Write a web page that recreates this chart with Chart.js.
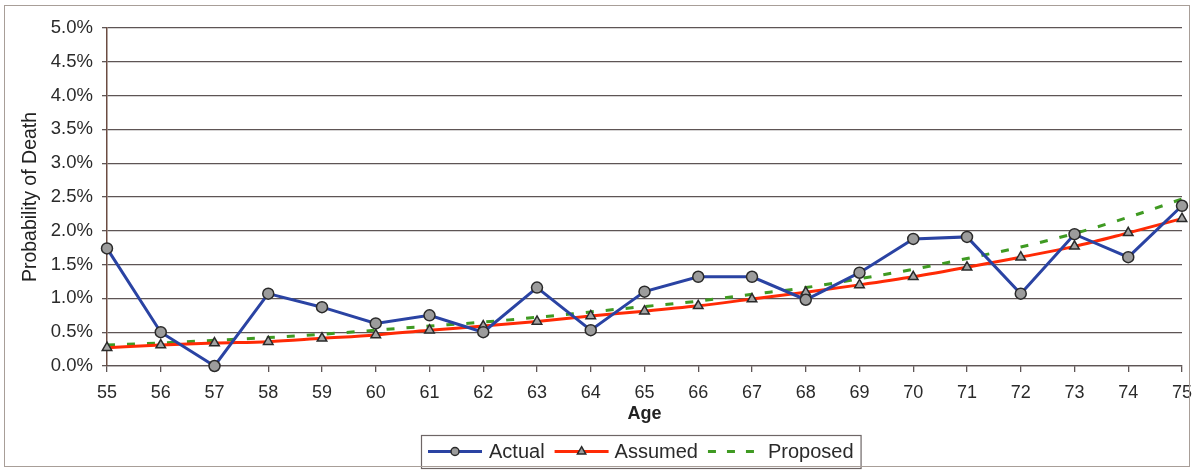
<!DOCTYPE html>
<html>
<head>
<meta charset="utf-8">
<title>Probability of Death by Age</title>
<script src="https://cdn.jsdelivr.net/npm/chart.js@4/dist/chart.umd.min.js"></script>
<style>
  html, body { margin: 0; padding: 0; background: #fff; }
  #wrap { position: relative; width: 1192px; height: 471px; }
  #frame { position: absolute; left: 4px; top: 5px; width: 1186px; height: 462px;
           border: 1px solid #a89e98; box-sizing: border-box; pointer-events: none; }
  canvas { display: block; }
</style>
</head>
<body>
<div id="wrap">
  <canvas id="chart" width="1192" height="471"></canvas>
  <div id="frame"></div>
</div>
<script>
// Ages on the horizontal axis
const ages = ['55','56','57','58','59','60','61','62','63','64','65','66','67','68','69','70','71','72','73','74','75'];

// Probability of death, in percent
const actual   = [1.74, 0.50, 0.00, 1.07, 0.87, 0.63, 0.75, 0.50, 1.16, 0.53, 1.10, 1.32, 1.32, 0.98, 1.38, 1.88, 1.91, 1.07, 1.95, 1.61, 2.37];
const assumed  = [0.27, 0.31, 0.34, 0.36, 0.41, 0.46, 0.53, 0.59, 0.66, 0.74, 0.81, 0.89, 0.99, 1.09, 1.20, 1.32, 1.46, 1.61, 1.77, 1.97, 2.18];
const proposed = [0.31, 0.34, 0.38, 0.42, 0.47, 0.53, 0.59, 0.65, 0.72, 0.80, 0.88, 0.96, 1.06, 1.16, 1.29, 1.43, 1.59, 1.76, 1.96, 2.20, 2.47];

// Y axis range and step, in percent
const yMin = 0, yMax = 5, yStep = 0.5;

const FONT = '"Liberation Sans", Arial, sans-serif';
const BLUE = '#2a43a3', RED = '#ff2a05', GREEN = '#3f9a22';
const GRID = '#5e5555';

// Legend drawn as a framed box below the axis, each entry with a line sample
const boxLegend = {
  id: 'boxLegend',
  afterDraw(chart) {
    const ctx = chart.ctx;
    const items = [
      { text: 'Actual',   color: BLUE,  marker: 'circle',   dash: [],      w: 54, gap: 7 },
      { text: 'Assumed',  color: RED,   marker: 'triangle', dash: [],      w: 54, gap: 6 },
      { text: 'Proposed', color: GREEN, marker: null,       dash: [8, 11], w: 49, gap: 11 }
    ];
    ctx.save();
    ctx.font = '20px ' + FONT;
    const padL = 7, gapI = 10;
    let total = padL * 2;
    items.forEach((it, i) => {
      it.tw = ctx.measureText(it.text).width;
      total += it.w + it.gap + it.tw + (i < items.length - 1 ? gapI : 0);
    });
    const cx = 641, top = 435, h = 33;
    const left = Math.round(cx - total / 2);
    ctx.fillStyle = '#fff';
    ctx.fillRect(left, top, total, h);
    ctx.strokeStyle = '#6e6666';
    ctx.lineWidth = 1.2;
    ctx.strokeRect(left + 0.5, top + 0.5, total, h);
    const cy = top + h / 2;
    let x = left + padL;
    items.forEach(it => {
      ctx.beginPath();
      ctx.setLineDash(it.dash);
      ctx.strokeStyle = it.color;
      ctx.lineWidth = 3;
      ctx.moveTo(x, cy);
      ctx.lineTo(x + it.w, cy);
      ctx.stroke();
      ctx.setLineDash([]);
      if (it.marker) {
        ctx.fillStyle = '#9c9c9c';
        ctx.strokeStyle = '#2a2a2a';
        ctx.lineWidth = 1.5;
        ctx.beginPath();
        const px = x + it.w / 2;
        if (it.marker === 'circle') {
          ctx.arc(px, cy, 4, 0, Math.PI * 2);
        } else {
          const r = 4.8;
          ctx.moveTo(px, cy - r);
          ctx.lineTo(px + r * 0.866, cy + r * 0.5);
          ctx.lineTo(px - r * 0.866, cy + r * 0.5);
          ctx.closePath();
        }
        ctx.fill();
        ctx.stroke();
      }
      x += it.w + it.gap;
      ctx.fillStyle = '#2a2a2a';
      ctx.textBaseline = 'middle';
      ctx.textAlign = 'left';
      ctx.fillText(it.text, x, cy + 1);
      x += it.tw + gapI;
    });
    ctx.restore();
  }
};

new Chart(document.getElementById('chart'), {
  type: 'line',
  data: {
    labels: ages,
    datasets: [
      {
        label: 'Actual', data: actual,
        borderColor: BLUE, borderWidth: 3,
        pointStyle: 'circle', pointRadius: 5.5, pointBorderWidth: 1.5,
        pointBackgroundColor: '#9c9c9c', pointBorderColor: '#2a2a2a',
        tension: 0, clip: false
      },
      {
        label: 'Assumed', data: assumed,
        borderColor: RED, borderWidth: 3,
        pointStyle: 'triangle', pointRadius: 5.5, pointBorderWidth: 1.5,
        pointBackgroundColor: '#a4a4a4', pointBorderColor: '#2a2a2a',
        tension: 0.3, cubicInterpolationMode: 'monotone', clip: false
      },
      {
        label: 'Proposed', data: proposed,
        borderColor: GREEN, borderWidth: 3, borderDash: [8, 12],
        pointRadius: 0, pointHoverRadius: 0,
        tension: 0.3, cubicInterpolationMode: 'monotone', clip: false
      }
    ]
  },
  options: {
    responsive: false,
    animation: false,
    devicePixelRatio: 1,
    layout: { padding: { left: 0, right: 10, top: 28, bottom: 45 } },
    plugins: { legend: { display: false }, tooltip: { enabled: false } },
    scales: {
      x: {
        offset: false,
        grid: { drawOnChartArea: false, drawTicks: true, tickLength: 6, color: GRID, lineWidth: 1.3 },
        border: { display: true, color: GRID, width: 1.3 },
        ticks: { color: '#2a2a2a', font: { family: FONT, size: 18 }, padding: 10, maxRotation: 0, autoSkip: false },
        title: { display: true, text: 'Age', color: '#222', font: { family: FONT, size: 18, weight: 'bold' }, padding: { top: 0, bottom: 1 } },
        afterFit(scale) {
          scale.height = 60;
          scale.paddingLeft = 0;
          scale.paddingRight = 0;
        }
      },
      y: {
        min: yMin, max: yMax,
        grid: { drawTicks: true, tickLength: 5, color: GRID, lineWidth: 1.3 },
        border: { display: true, color: '#6b4c42', width: 1.5 },
        ticks: {
          stepSize: yStep, color: '#2a2a2a', font: { family: FONT, size: 18.5 }, padding: 9,
          callback: v => v.toFixed(1) + '%'
        },
        title: { display: true, text: 'Probability of Death', color: '#222', font: { family: FONT, size: 19.5 }, padding: { top: 19, bottom: 0 } },
        afterFit(scale) { scale.width = 107; }
      }
    }
  },
  plugins: [boxLegend]
});
</script>
</body>
</html>
